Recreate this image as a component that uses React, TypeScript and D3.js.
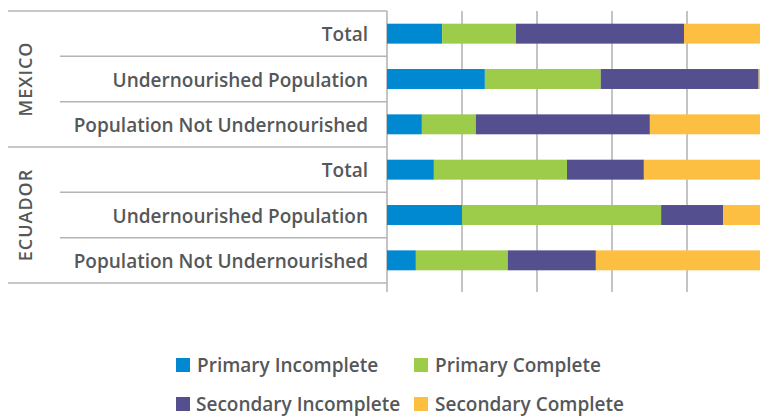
import { useEffect, useRef } from "react";
import * as d3 from "d3";

const countries = ["MEXICO", "ECUADOR"];
const groups = ["Total", "Undernourished Population", "Population Not Undernourished"];
const seriesNames = ["Primary Incomplete", "Primary Complete", "Secondary Incomplete", "Secondary Complete"];
const colors = ["#0089d0", "#9dcb4a", "#544f8f", "#fdbf41"];

// percentages, one array per education level, rows: MX Total, MX Under, MX Not, EC Total, EC Under, EC Not
const primaryIncomplete = [14.7, 26.1, 9.3, 12.5, 20.0, 7.7];
const primaryComplete = [19.7, 30.9, 14.4, 35.5, 53.1, 24.5];
const secondaryIncomplete = [44.8, 42.1, 46.4, 20.5, 16.5, 23.5];
const secondaryComplete = [20.8, 0.9, 29.9, 31.5, 10.4, 44.3];

const xTicks = [0, 20, 40, 60, 80, 100];

const TEXT = "#555759";
const FONT = "'Open Sans', sans-serif";

export default function App() {
  const svgRef = useRef<SVGSVGElement>(null);

  useEffect(() => {
    if (!svgRef.current) return;
    const svg = d3.select(svgRef.current);
    svg.selectAll("*").remove();

    const rows = countries.flatMap((c) => groups.map((g) => ({ country: c, group: g, key: `${c}|${g}` })));
    const table = rows.map((r, i) => ({
      key: r.key,
      "Primary Incomplete": primaryIncomplete[i],
      "Primary Complete": primaryComplete[i],
      "Secondary Incomplete": secondaryIncomplete[i],
      "Secondary Complete": secondaryComplete[i],
    }));

    const top = 11;
    const bottom = 283;
    const axisX = 387;

    const x = d3.scaleLinear().domain([0, 100]).range([axisX, 762]);
    const y = d3
      .scaleBand()
      .domain(rows.map((r) => r.key))
      .range([top, bottom])
      .paddingInner(0.56)
      .paddingOuter(0.28);

    const step = (bottom - top) / rows.length;

    // grid + ticks
    svg
      .append("g")
      .selectAll("line")
      .data(xTicks)
      .join("line")
      .attr("x1", (d) => x(d))
      .attr("x2", (d) => x(d))
      .attr("y1", top)
      .attr("y2", 292)
      .attr("stroke", "#c4c4c6")
      .attr("stroke-width", 2);

    // row separators
    rows.forEach((r, i) => {
      const yy = top + step * i;
      const full = i % groups.length === 0;
      svg
        .append("line")
        .attr("x1", full ? 8 : 60)
        .attr("x2", axisX)
        .attr("y1", yy)
        .attr("y2", yy)
        .attr("stroke", "#b4b4b6")
        .attr("stroke-width", 1.5);
    });
    svg
      .append("line")
      .attr("x1", 8)
      .attr("x2", axisX)
      .attr("y1", bottom)
      .attr("y2", bottom)
      .attr("stroke", "#b4b4b6")
      .attr("stroke-width", 1.5);

    // bars
    const stacked = d3.stack<any>().keys(seriesNames)(table);
    stacked.forEach((s, si) => {
      svg
        .append("g")
        .attr("fill", colors[si])
        .selectAll("rect")
        .data(s)
        .join("rect")
        .attr("x", (d) => x(d[0]))
        .attr("width", (d) => x(d[1]) - x(d[0]))
        .attr("y", (d) => y(d.data.key)!)
        .attr("height", y.bandwidth());
    });

    // category labels
    svg
      .append("g")
      .selectAll("text")
      .data(rows)
      .join("text")
      .attr("x", 368)
      .attr("y", (d) => y(d.key)! + y.bandwidth() / 2 + 1)
      .attr("dy", "0.35em")
      .attr("text-anchor", "end")
      .style("font-family", FONT)
      .style("font-weight", 600)
      .style("font-size", "19px")
      .style("fill", TEXT)
      .text((d) => d.group);

    // country labels
    countries.forEach((c, ci) => {
      const cy = top + step * groups.length * (ci + 0.5);
      svg
        .append("text")
        .attr("transform", `translate(26,${cy}) rotate(-90)`)
        .attr("text-anchor", "middle")
        .attr("dy", "0.35em")
        .style("font-family", FONT)
        .style("font-weight", 600)
        .style("font-size", "18px")
        .style("letter-spacing", "1px")
        .style("fill", TEXT)
        .text(c);
    });

    // legend (second row sits at the very bottom edge, as in the original)
    const legendPos = [
      [176, 365],
      [414, 365],
      [176, 404],
      [414, 404],
    ];
    seriesNames.forEach((name, i) => {
      const [lx, ly] = legendPos[i];
      const g = svg.append("g").attr("transform", `translate(${lx},${ly})`);
      g.append("rect").attr("x", 0).attr("y", -7).attr("width", 14).attr("height", 14).attr("fill", colors[i]);
      g.append("text")
        .attr("x", i === 2 ? 20 : 21)
        .attr("dy", "0.35em")
        .style("font-family", FONT)
        .style("font-weight", 600)
        .style("font-size", "19px")
        .style("fill", TEXT)
        .text(name);
    });
  }, []);

  return (
    <svg
      ref={svgRef}
      width={760}
      height={417}
      style={{ position: "absolute", left: 0, top: 0, background: "#fff" }}
    />
  );
}
